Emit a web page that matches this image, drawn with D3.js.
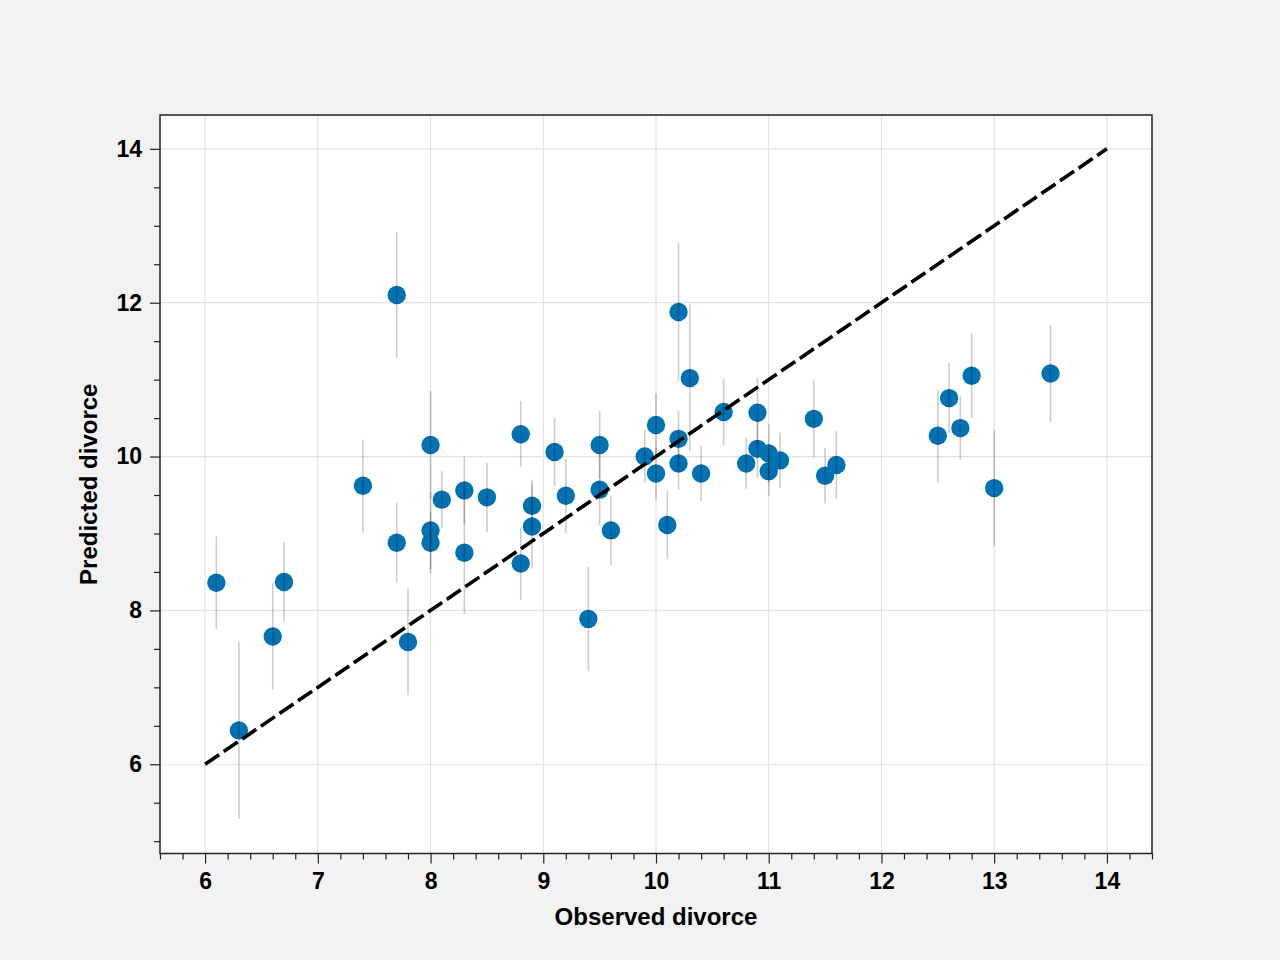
<!DOCTYPE html>
<html>
<head>
<meta charset="utf-8">
<script src="https://cdn.jsdelivr.net/npm/d3@7"></script>
<style>
  body { margin: 0; background: #f2f2f2; }
  svg { display: block; }
</style>
</head>
<body>
<div id="chart"></div>
<script>
// Observed vs predicted divorce rate, one entry per state
const observed = [6.1, 6.3, 6.6, 6.7, 7.4, 7.7, 7.7, 7.8, 8.0, 8.0, 8.0, 8.1, 8.3, 8.3, 8.5, 8.8, 8.8,
  8.9, 8.9, 9.1, 9.2, 9.4, 9.5, 9.5, 9.6, 9.9, 10.0, 10.0, 10.1, 10.2, 10.2, 10.2, 10.3, 10.4, 10.6,
  10.8, 10.9, 10.9, 11.0, 11.0, 11.1, 11.4, 11.5, 11.6, 12.5, 12.6, 12.7, 12.8, 13.0, 13.5];
const predicted = [8.36, 6.44, 7.66, 8.37, 9.62, 12.10, 8.88, 7.59, 10.15, 9.04, 8.88, 9.44, 9.56, 8.75,
  9.47, 10.29, 8.61, 9.36, 9.09, 10.06, 9.49, 7.89, 10.15, 9.57, 9.04, 10.00, 10.41, 9.78, 9.11, 11.88,
  10.23, 9.91, 11.02, 9.78, 10.58, 9.91, 10.57, 10.10, 10.04, 9.81, 9.95, 10.49, 9.75, 9.89, 10.27,
  10.76, 10.37, 11.05, 9.59, 11.08];
// half width of the interval around each prediction
const predErr = [0.60, 1.15, 0.69, 0.52, 0.60, 0.82, 0.52, 0.69, 0.70, 0.50, 0.40, 0.37, 0.44, 0.80,
  0.45, 0.43, 0.47, 0.34, 0.55, 0.44, 0.48, 0.68, 0.44, 0.47, 0.45, 0.34, 0.41, 0.34, 0.44, 0.90,
  0.36, 0.34, 0.95, 0.36, 0.43, 0.33, 0.45, 0.37, 0.38, 0.32, 0.36, 0.50, 0.36, 0.44, 0.60, 0.46,
  0.41, 0.55, 0.75, 0.63];
const xTicks = [6, 7, 8, 9, 10, 11, 12, 13, 14];
const yTicks = [6, 8, 10, 12, 14];
const refLine = [6, 14];

const cfg = {
  w: 1280,
  h: 960,
  left: 160,
  right: 1152,
  top: 115,
  bottom: 853.5,
  dotColor: '#0072b2',
  font: '"Liberation Sans", Arial, Helvetica, sans-serif',
};

const svg = d3.select('#chart')
  .append('svg')
  .attr('width', cfg.w)
  .attr('height', cfg.h);

svg.append('rect')
  .attr('width', cfg.w)
  .attr('height', cfg.h)
  .attr('fill', '#f2f2f2');

const x = d3.scaleLinear().domain([5.6, 14.4]).range([cfg.left, cfg.right]);
const y = d3.scaleLinear().domain([4.84, 14.44]).range([cfg.bottom, cfg.top]);

svg.append('rect')
  .attr('x', cfg.left)
  .attr('y', cfg.top)
  .attr('width', cfg.right - cfg.left)
  .attr('height', cfg.bottom - cfg.top)
  .attr('fill', '#fff');

// Grid
svg.append('g')
  .selectAll('line')
  .data(xTicks)
  .enter()
  .append('line')
  .attr('x1', d => x(d))
  .attr('x2', d => x(d))
  .attr('y1', cfg.top)
  .attr('y2', cfg.bottom)
  .style('stroke', '#e2e2e2')
  .style('stroke-width', '1.2px');

svg.append('g')
  .selectAll('line')
  .data(yTicks)
  .enter()
  .append('line')
  .attr('x1', cfg.left)
  .attr('x2', cfg.right)
  .attr('y1', d => y(d))
  .attr('y2', d => y(d))
  .style('stroke', '#e2e2e2')
  .style('stroke-width', '1.2px');

// Points
const pts = observed.map((o, i) => ({ o, p: predicted[i], e: predErr[i] }));

svg.append('g')
  .selectAll('circle')
  .data(pts)
  .enter()
  .append('circle')
  .attr('cx', d => x(d.o))
  .attr('cy', d => y(d.p))
  .attr('r', 9.2)
  .style('fill', cfg.dotColor);

// Error bars on top of the dots
svg.append('g')
  .selectAll('line')
  .data(pts)
  .enter()
  .append('line')
  .attr('x1', d => x(d.o))
  .attr('x2', d => x(d.o))
  .attr('y1', d => y(d.p - d.e))
  .attr('y2', d => y(d.p + d.e))
  .style('stroke', '#000')
  .style('stroke-opacity', 0.2)
  .style('stroke-width', '1.6px');

// Reference y = x
svg.append('line')
  .attr('x1', x(refLine[0]))
  .attr('y1', y(refLine[0]))
  .attr('x2', x(refLine[1]))
  .attr('y2', y(refLine[1]))
  .style('stroke', '#000')
  .style('stroke-width', '3.6px')
  .style('stroke-dasharray', '17,5.5');

// Axes
const xMinor = d3.range(5.6, 14.41, 0.2).filter(v => Math.abs(v - Math.round(v)) > 1e-6);
const yMinor = d3.range(5, 14.41, 0.5).filter(v => v % 2 !== 0);

const styleAxis = (g) => {
  g.select('.domain').remove();
  g.selectAll('line').style('stroke', '#222').style('stroke-width', '1.2px');
  g.selectAll('text')
    .style('font-family', cfg.font)
    .style('font-weight', 'bold')
    .style('font-size', '23px')
    .style('fill', '#000');
};

svg.append('g')
  .attr('transform', `translate(0, ${cfg.bottom})`)
  .call(d3.axisBottom(x).tickValues(xMinor).tickSize(6).tickFormat(''))
  .call(styleAxis);

svg.append('g')
  .attr('transform', `translate(0, ${cfg.bottom})`)
  .call(d3.axisBottom(x).tickValues(xTicks).tickSize(10).tickPadding(9).tickFormat(d3.format('d')))
  .call(styleAxis);

svg.append('g')
  .attr('transform', `translate(${cfg.left}, 0)`)
  .call(d3.axisLeft(y).tickValues(yMinor).tickSize(6).tickFormat(''))
  .call(styleAxis);

svg.append('g')
  .attr('transform', `translate(${cfg.left}, 0)`)
  .call(d3.axisLeft(y).tickValues(yTicks).tickSize(10).tickPadding(8).tickFormat(d3.format('d')))
  .call(styleAxis);

// Frame
svg.append('rect')
  .attr('x', cfg.left)
  .attr('y', cfg.top)
  .attr('width', cfg.right - cfg.left)
  .attr('height', cfg.bottom - cfg.top)
  .style('fill', 'none')
  .style('stroke', '#222')
  .style('stroke-width', '1.5px');

// Labels
svg.append('text')
  .attr('x', (cfg.left + cfg.right) / 2)
  .attr('y', 925)
  .attr('text-anchor', 'middle')
  .style('font-family', cfg.font)
  .style('font-weight', 'bold')
  .style('font-size', '24px')
  .text('Observed divorce');

svg.append('text')
  .attr('transform', `translate(97, ${(cfg.top + cfg.bottom) / 2}) rotate(-90)`)
  .attr('text-anchor', 'middle')
  .style('font-family', cfg.font)
  .style('font-weight', 'bold')
  .style('font-size', '24px')
  .text('Predicted divorce');
</script>
</body>
</html>
